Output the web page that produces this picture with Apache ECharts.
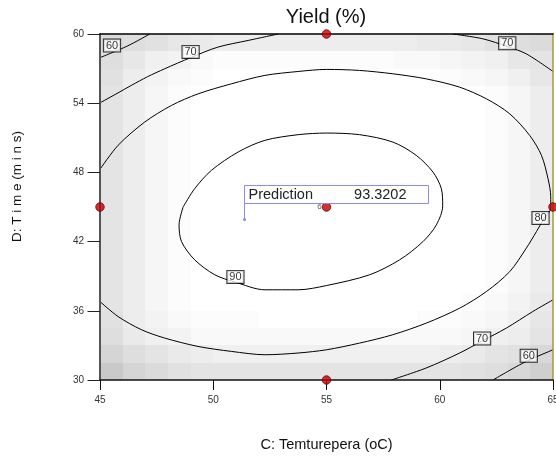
<!DOCTYPE html>
<html>
<head>
<meta charset="utf-8">
<script src="https://cdn.jsdelivr.net/npm/echarts@6.0.0/dist/echarts.min.js"></script>
<style>
  html, body { margin: 0; padding: 0; background: #ffffff; }
  #chart { width: 556px; height: 457px; }
</style>
</head>
<body>
<div id="chart"></div>
<script>
// ---- Data -------------------------------------------------------------
// Axis ticks (C: temperature, D: time)
const tempTicks = [45, 50, 55, 60, 65];
const timeTicks = [30, 36, 42, 48, 54, 60];

// Contour lines of predicted yield, as [temperature, time] points
const contour60TopLeft = [[45, 57.95], [46.2, 58.95], [47.2, 60]];
const contour70TopLeft = [[45, 54.03], [45.8, 54.9], [46.38, 55.54], [47.1, 56.3], [47.85, 56.98],
  [49.0, 57.95], [50.2, 58.86], [51.54, 59.44], [52.87, 60]];
const contour70TopRight = [[60.58, 60], [61.91, 59.58], [63.0, 58.9], [63.82, 58.28], [65, 56.75]];
const contour70BottomRight = [[57.86, 30], [59.4, 31.04], [60.88, 32.34], [61.85, 33.36],
  [62.94, 34.5], [64.11, 35.94], [65, 36.95]];
const contour60BottomRight = [[62.35, 30], [63.53, 31.32], [64.2, 31.95], [65, 32.62]];
const contour80 = [[45, 48.27], [45.8, 50.35], [46.97, 52.36], [48.15, 53.8], [49.33, 54.81],
  [50.8, 55.68], [52.28, 56.41], [53.75, 56.75], [55.0, 56.93], [56.46, 56.84], [57.93, 56.55],
  [59.4, 56.11], [60.88, 55.39], [62.06, 54.38], [63.09, 53.08], [63.97, 51.21], [64.49, 49.48],
  [64.78, 47.45], [64.9, 45.9], [64.9, 44.9], [64.6, 44.0], [64.27, 42.87], [63.82, 41.43],
  [63.09, 39.4], [62.06, 37.67], [60.88, 36.23], [59.4, 34.93], [57.92, 33.92], [56.46, 33.2],
  [55.0, 32.62], [53.75, 32.34], [52.28, 32.19], [50.8, 32.48], [49.33, 32.91], [47.85, 33.64],
  [46.83, 34.36], [45.8, 35.5], [45, 36.8]];
const contour90 = [[48.67, 45.0], [49.18, 46.59], [49.92, 48.18], [51.1, 49.77], [52.28, 50.78],
  [53.75, 51.27], [55.0, 51.41], [56.46, 51.27], [57.93, 50.63], [58.96, 49.48], [59.7, 48.03],
  [60.07, 46.59], [60.13, 45.1], [59.85, 43.45], [59.26, 42.0], [58.23, 40.42], [56.9, 39.12],
  [55.0, 38.19], [53.75, 37.82], [52.28, 37.82], [50.95, 38.5], [50.07, 39.12], [49.18, 40.42],
  [48.6, 42.0], [48.49, 43.45], [48.67, 45.0]];

// Contour level tags: [temperature, time, level]
const contourLabels = [[45.53, 59.0, 60], [49.0, 58.45, 70], [62.98, 59.2, 70], [64.45, 44.05, 80],
  [50.98, 38.94, 90], [61.87, 33.6, 70], [63.93, 32.1, 60]];

// Design points
const axialPoints = [[55, 60], [45, 45], [65, 45], [55, 30]];
const centerPoint = [55, 45];
const centerRuns = 6;

// Flagged prediction
const predictionPoint = [51.37, 43.97];
const predictionLabel = 'Prediction';
const predictionValue = '93.3202';

// Background shading of the design space, 20 x 20 cells,
// rows from time 30 (bottom) upward, columns from temperature 45 rightward
const shadeRows = [
  [18, 14, 12, 10, 9, 9, 9, 9, 9, 9, 9, 9, 9, 9, 9, 9, 10, 11, 13, 16],
  [14, 11, 9, 7, 6, 5, 5, 5, 5, 5, 5, 5, 5, 5, 5, 6, 7, 9, 10, 13],
  [11, 7, 5, 4, 2, 2, 2, 2, 2, 2, 2, 2, 2, 2, 2, 2, 3, 5, 6, 9],
  [10, 6, 4, 2, 1, 1, 1, 0, 0, 0, 0, 0, 0, 0, 1, 1, 2, 3, 5, 8],
  [9, 6, 3, 1, 0, 0, 0, 0, 0, 0, 0, 0, 0, 0, 0, 0, 1, 2, 4, 7],
  [9, 6, 3, 1, 0, 0, 0, 0, 0, 0, 0, 0, 0, 0, 0, 0, 0, 1, 3, 6],
  [9, 6, 3, 1, 0, 0, 0, 0, 0, 0, 0, 0, 0, 0, 0, 0, 0, 1, 3, 6],
  [9, 6, 3, 1, 0, 0, 0, 0, 0, 0, 0, 0, 0, 0, 0, 0, 0, 1, 3, 6],
  [9, 6, 3, 1, 0, 0, 0, 0, 0, 0, 0, 0, 0, 0, 0, 0, 0, 1, 3, 6],
  [9, 6, 3, 1, 0, 0, 0, 0, 0, 0, 0, 0, 0, 0, 0, 0, 0, 1, 3, 6],
  [9, 6, 3, 1, 0, 0, 0, 0, 0, 0, 0, 0, 0, 0, 0, 0, 0, 1, 3, 6],
  [9, 6, 3, 1, 0, 0, 0, 0, 0, 0, 0, 0, 0, 0, 0, 0, 0, 1, 3, 6],
  [9, 6, 3, 1, 0, 0, 0, 0, 0, 0, 0, 0, 0, 0, 0, 0, 0, 1, 3, 6],
  [9, 6, 3, 1, 0, 0, 0, 0, 0, 0, 0, 0, 0, 0, 0, 0, 0, 1, 3, 6],
  [9, 6, 3, 1, 0, 0, 0, 0, 0, 0, 0, 0, 0, 0, 0, 0, 0, 1, 3, 6],
  [9, 6, 3, 1, 0, 0, 0, 0, 0, 0, 0, 0, 0, 0, 0, 0, 0, 1, 3, 6],
  [9, 6, 3, 1, 0, 0, 0, 0, 0, 0, 0, 0, 0, 0, 0, 0, 0, 1, 3, 6],
  [10, 6, 4, 2, 1, 0, 0, 0, 0, 0, 0, 0, 0, 0, 0, 1, 2, 3, 5, 8],
  [11, 8, 5, 4, 2, 1, 1, 1, 1, 1, 1, 1, 1, 2, 2, 3, 4, 5, 8, 9],
  [12, 11, 10, 8, 7, 6, 6, 6, 6, 6, 6, 6, 6, 6, 7, 7, 8, 10, 11, 12]
];

// ---- Derived values ---------------------------------------------------
const tempMin = tempTicks[0], tempMax = tempTicks[tempTicks.length - 1];
const timeMin = timeTicks[0], timeMax = timeTicks[timeTicks.length - 1];
const cellW = (tempMax - tempMin) / shadeRows[0].length;
const cellH = (timeMax - timeMin) / shadeRows.length;

const shadeCells = [];
shadeRows.forEach((row, j) => {
  row.forEach((v, i) => {
    shadeCells.push([tempMin + i * cellW, timeMin + j * cellH, v]);
  });
});

const FONT = '"Liberation Sans", Arial, Helvetica, sans-serif';

function contourSeries(points) {
  return {
    type: 'line',
    data: points,
    symbol: 'none',
    smooth: 0.3,
    lineStyle: { color: '#000000', width: 1 },
    z: 5,
    silent: true
  };
}

const chart = echarts.init(document.getElementById('chart'), null, { renderer: 'canvas' });

chart.setOption({
  animation: false,
  backgroundColor: '#ffffff',
  title: {
    text: 'Yield (%)',
    left: 326,
    top: 7,
    padding: 0,
    textAlign: 'center',
    textStyle: { fontSize: 20, fontWeight: 'normal', color: '#111111', fontFamily: FONT }
  },
  grid: { left: 100, right: 3, top: 34, bottom: 77, containLabel: false, outerBoundsMode: 'none' },
  visualMap: {
    type: 'continuous',
    show: false,
    seriesIndex: 0,
    dimension: 2,
    min: 0,
    max: 18,
    inRange: { color: ['#ffffff', '#c9c9c9'] }
  },
  xAxis: [
    {
      type: 'value',
      position: 'bottom',
      min: tempMin,
      max: tempMax,
      interval: tempTicks[1] - tempTicks[0],
      z: 10,
      axisLine: { show: true, onZero: false, lineStyle: { color: '#111111', width: 1.5 } },
      axisTick: { show: true, length: 10, lineStyle: { color: '#111111', width: 1 } },
      axisLabel: { margin: 15, fontSize: 10, color: '#333333', fontFamily: FONT },
      splitLine: { show: false },
      name: 'C: Temturepera (oC)',
      nameLocation: 'middle',
      nameGap: 57,
      nameTextStyle: { fontSize: 14.5, color: '#111111', fontFamily: FONT }
    },
    {
      type: 'value',
      position: 'top',
      min: tempMin,
      max: tempMax,
      z: 10,
      axisLine: { show: true, onZero: false, lineStyle: { color: '#000000', width: 1.5 } },
      axisTick: { show: false },
      axisLabel: { show: false },
      splitLine: { show: false }
    }
  ],
  yAxis: [
    {
      type: 'value',
      position: 'left',
      min: timeMin,
      max: timeMax,
      interval: timeTicks[1] - timeTicks[0],
      z: 10,
      axisLine: { show: true, onZero: false, lineStyle: { color: '#555555', width: 2 } },
      axisTick: { show: true, length: 12.5, lineStyle: { color: '#222222', width: 1 } },
      axisLabel: { margin: 16, fontSize: 10, color: '#333333', fontFamily: FONT },
      splitLine: { show: false }
    },
    {
      type: 'value',
      position: 'right',
      min: timeMin,
      max: timeMax,
      z: 10,
      axisLine: { show: true, onZero: false, lineStyle: { color: '#9f9f3a', width: 1.5 } },
      axisTick: { show: false },
      axisLabel: { show: false },
      splitLine: { show: false }
    }
  ],
  series: [
    {
      type: 'custom',
      data: shadeCells,
      encode: { x: 0, y: 1 },
      silent: true,
      z: 1,
      renderItem: function (params, api) {
        const x0 = api.value(0), y0 = api.value(1);
        const a = api.coord([x0, y0 + cellH]);
        const b = api.coord([x0 + cellW, y0]);
        const left = Math.round(a[0]), top = Math.round(a[1]);
        return {
          type: 'rect',
          shape: { x: left, y: top, width: Math.round(b[0]) - left, height: Math.round(b[1]) - top },
          style: { fill: api.visual('color') }
        };
      }
    },
    contourSeries(contour60TopLeft),
    contourSeries(contour70TopLeft),
    contourSeries(contour70TopRight),
    contourSeries(contour70BottomRight),
    contourSeries(contour60BottomRight),
    contourSeries(contour80),
    contourSeries(contour90),
    {
      type: 'scatter',
      data: contourLabels,
      symbolSize: 1,
      itemStyle: { color: 'rgba(0,0,0,0)' },
      clip: false,
      silent: true,
      z: 8,
      label: {
        show: true,
        position: 'inside',
        formatter: (p) => String(p.value[2]),
        color: '#000000',
        fontSize: 11,
        fontFamily: FONT,
        backgroundColor: '#ffffff',
        borderColor: '#000000',
        borderWidth: 1,
        padding: [1, 2, 0, 2]
      }
    },
    {
      type: 'scatter',
      data: axialPoints.map((p) => ({ value: p })).concat([{
        value: centerPoint,
        label: {
          show: true,
          formatter: String(centerRuns),
          position: 'left',
          distance: 0,
          fontSize: 8,
          color: '#333333',
          fontFamily: FONT
        }
      }]),
      symbol: 'circle',
      symbolSize: 8.5,
      clip: false,
      silent: true,
      z: 12,
      itemStyle: { color: '#c00000', borderColor: '#6a0000', borderWidth: 1 }
    }
  ]
});

// Axis title for time and the prediction flag, placed through the grid's scales
const pin = chart.convertToPixel({ xAxisIndex: 0, yAxisIndex: 0 }, predictionPoint);
const px = Math.round(pin[0]) + 0.5;
const py = Math.round(pin[1]) + 0.5;
const flagColor = '#8a8aff';

chart.setOption({
  graphic: [
    {
      type: 'text',
      x: 17.5,
      y: 186.5,
      rotation: Math.PI / 2,
      z: 100,
      silent: true,
      style: {
        text: 'D: T i m e (m i n s)',
        font: '13.5px ' + FONT,
        fill: '#111111',
        align: 'center',
        verticalAlign: 'middle'
      }
    },
    {
      type: 'line',
      z: 100,
      silent: true,
      shape: { x1: px, y1: py, x2: px, y2: py - 34 },
      style: { stroke: flagColor, lineWidth: 1 }
    },
    {
      type: 'rect',
      z: 100,
      silent: true,
      shape: { x: px, y: py - 34, width: 184, height: 18 },
      style: { fill: '#ffffff', stroke: flagColor, lineWidth: 1 }
    },
    {
      type: 'circle',
      z: 100,
      silent: true,
      shape: { cx: px, cy: py, r: 1.6 },
      style: { fill: flagColor }
    },
    {
      type: 'text',
      z: 101,
      silent: true,
      x: px + 4,
      y: py - 25,
      style: { text: predictionLabel, font: '14.5px ' + FONT, fill: '#222222', align: 'left', verticalAlign: 'middle' }
    },
    {
      type: 'text',
      z: 101,
      silent: true,
      x: px + 162,
      y: py - 25,
      style: { text: predictionValue, font: '14.5px ' + FONT, fill: '#222222', align: 'right', verticalAlign: 'middle' }
    }
  ]
});
</script>
</body>
</html>
